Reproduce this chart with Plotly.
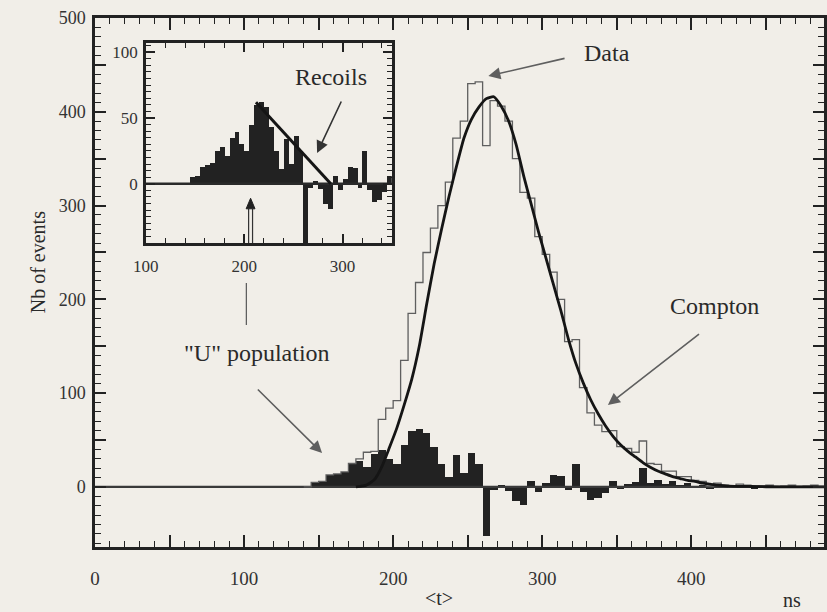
import plotly.graph_objects as go

# ---------------------------------------------------------------------------
# Histogram binning (ns) and the three distributions
# ---------------------------------------------------------------------------
bin_width = 5
bin_starts = list(range(140, 490, bin_width))

# Measured data (open histogram)
data_counts = [
    0, 5, 6, 13, 14, 16, 25, 30, 37, 38,
    72, 84, 92, 135, 185, 218, 250, 276, 300, 325,
    372, 390, 430, 432, 364, 412, 406, 390, 350, 314,
    308, 267, 248, 229, 200, 155, 157, 106, 79, 66,
    59, 60, 43, 41, 37, 49, 25, 24, 17, 17,
    11, 11, 7, 6, 1, 4, 2, 0, 3, 2,
    0, 1, 2, 0, 1, 2, 0, 1, 2, 0,
]

# Data minus Compton fit (filled histogram)
residual_counts = [
    0, 5, 6, 13, 14, 16, 25, 28, 21, 35,
    39, 30, 25, 45, 60, 62, 58, 43, 25, 11,
    34, 15, 36, 25, -52, -3, 2, -4, -15, -19,
    6, -5, 4, 13, 12, -3, 25, -5, -14, -12,
    -6, 6, -2, 3, 5, 20, 4, 7, 3, 6,
    2, 4, 1, 2, -2, 2, 1, -1, 2, 1,
    -2, 1, 2, -1, 1, 2, -1, 1, 2, -1,
]

# Compton fit curve
compton_t = [175, 182, 187.5, 192.5, 197.5, 202.5, 207.5, 212.5, 217.5, 222.5,
             227.5, 232.5, 237.5, 242.5, 247.5, 252.5, 257.5, 262.5, 267.5, 272.5,
             277.5, 282.5, 287.5, 292.5, 297.5, 302.5, 307.5, 312.5, 317.5, 322.5,
             327.5, 332.5, 337.5, 342.5, 347.5, 352.5, 357.5, 362.5, 367.5, 372.5,
             377.5, 382.5, 387.5, 392.5, 397.5, 402.5, 407.5, 412.5, 417.5, 425,
             440, 460, 489]
compton_y = [0, 2, 8, 22, 42, 63, 88, 115, 150, 195,
             238, 275, 310, 342, 372, 392, 405, 414, 416, 406,
             390, 365, 332, 302, 272, 244, 216, 188, 158, 132,
             111, 93, 78, 65, 54, 45, 38, 32, 26, 21,
             17, 14, 11, 9, 7, 6, 4, 3, 2, 1,
             0.5, 0, 0]

# Recoil fit line in the inset
recoil_t = [212, 288]
recoil_y = [62, 0]

# Axis tick values / labels
main_x_ticks = list(range(0, 500, 50))
main_x_labels = [str(v) if v % 100 == 0 else "" for v in main_x_ticks]
main_y_ticks = list(range(0, 550, 50))
main_y_labels = [str(v) if v % 100 == 0 else "" for v in main_y_ticks]
inset_x_ticks = [100, 200, 300]
inset_y_ticks = [0, 50, 100]

# ---------------------------------------------------------------------------
# Geometry helpers (page pixels -> axis / paper coordinates)
# ---------------------------------------------------------------------------
W, H = 827, 612
ML, MR, MT, MB = 95, 0, 18, 65
PW, PH = W - ML - MR, H - MT - MB
X0, X1 = 0, 489
Y0, Y1 = -64, 500


def px_x(px):
    return X0 + (px - ML) / PW * (X1 - X0)


def px_y(py):
    return Y1 - (py - MT) / PH * (Y1 - Y0)


def paper_x(px):
    return (px - ML) / PW


def paper_y(py):
    return (H - MB - py) / PH


INK = "#222222"
GREY = "#5f5f5f"
BG = "#f1eee8"
FONT = "Liberation Serif"

centers = [s + bin_width / 2 for s in bin_starts]
edges = bin_starts + [bin_starts[-1] + bin_width]
step_y = data_counts + [0]

fig = go.Figure()

# --- main panel -------------------------------------------------------------
fig.add_trace(go.Bar(x=centers, y=residual_counts, width=bin_width,
                     marker=dict(color=INK, line=dict(width=0)),
                     xaxis="x", yaxis="y", showlegend=False))
fig.add_trace(go.Scatter(x=[X0, X1], y=[0, 0], mode="lines",
                         line=dict(color="#3a3a3a", width=2.2),
                         xaxis="x", yaxis="y", showlegend=False))
fig.add_trace(go.Scatter(x=[edges[0]] + edges, y=[0] + step_y, mode="lines",
                         line=dict(color=GREY, width=1.3, shape="hv"),
                         xaxis="x", yaxis="y", showlegend=False))
fig.add_trace(go.Scatter(x=compton_t, y=compton_y, mode="lines",
                         line=dict(color="#151515", width=2.8, shape="spline",
                                   smoothing=0.5),
                         xaxis="x", yaxis="y", showlegend=False))

# --- inset panel ------------------------------------------------------------
fig.add_trace(go.Bar(x=centers, y=residual_counts, width=bin_width,
                     marker=dict(color=INK, line=dict(width=0)),
                     xaxis="x2", yaxis="y2", showlegend=False))
fig.add_trace(go.Scatter(x=[100, 350], y=[0, 0], mode="lines",
                         line=dict(color="#2a2a2a", width=2.5),
                         xaxis="x2", yaxis="y2", showlegend=False))
fig.add_trace(go.Scatter(x=recoil_t, y=recoil_y, mode="lines",
                         line=dict(color="#151515", width=3),
                         xaxis="x2", yaxis="y2", showlegend=False))

axis_common = dict(showline=True, linecolor=INK, linewidth=2.5, mirror="ticks",
                   ticks="inside", tickcolor=INK, showgrid=False, zeroline=False,
                   fixedrange=True)

fig.update_layout(
    width=W, height=H,
    margin=dict(l=ML, r=MR, t=MT, b=MB, pad=0),
    paper_bgcolor=BG, plot_bgcolor=BG,
    bargap=0, barmode="overlay",
    xaxis=dict(range=[X0, X1], domain=[0, 1], anchor="y",
               tickvals=main_x_ticks, ticktext=main_x_labels,
               ticklen=12, tickwidth=1.6, ticklabelstandoff=12,
               minor=dict(dtick=10, tick0=0, ticklen=6, tickwidth=1.3,
                          ticks="inside", tickcolor=INK),
               tickfont=dict(family=FONT, size=19, color="#333333"),
               **axis_common),
    yaxis=dict(range=[Y0, Y1], domain=[0, 1], anchor="x",
               tickvals=main_y_ticks, ticktext=main_y_labels,
               ticklen=11, tickwidth=1.6, ticklabelstandoff=3,
               minor=dict(dtick=10, tick0=0, ticklen=6, tickwidth=1.3,
                          ticks="inside", tickcolor=INK),
               tickfont=dict(family=FONT, size=18, color="#333333"),
               **axis_common),
    xaxis2=dict(range=[100, 350], domain=[paper_x(146), paper_x(393)],
                anchor="y2", tickvals=inset_x_ticks,
                ticklen=9, tickwidth=1.6, ticklabelstandoff=6,
                minor=dict(dtick=20, tick0=100, ticklen=5, tickwidth=1.3,
                           ticks="inside", tickcolor=INK),
                tickfont=dict(family=FONT, size=17, color="#333333"),
                **axis_common),
    yaxis2=dict(range=[-45, 107], domain=[paper_y(243), paper_y(43)],
                anchor="x2", tickvals=inset_y_ticks,
                ticklen=9, tickwidth=1.6, ticklabelstandoff=2,
                minor=dict(dtick=5, tick0=0, ticklen=5, tickwidth=1.2,
                           ticks="inside", tickcolor=INK),
                tickfont=dict(family=FONT, size=17, color="#333333"),
                **axis_common),
)


def arrow(tail, head, color=GREY, width=1.6):
    fig.add_annotation(x=px_x(head[0]), y=px_y(head[1]),
                       ax=px_x(tail[0]), ay=px_y(tail[1]),
                       xref="x", yref="y", axref="x", ayref="y",
                       text="", showarrow=True, arrowhead=2, arrowsize=1.5,
                       arrowwidth=width, arrowcolor=color)


def label(text, pos, size=24, angle=0):
    fig.add_annotation(x=paper_x(pos[0]), y=paper_y(pos[1]),
                       xref="paper", yref="paper",
                       text=text, showarrow=False, textangle=angle,
                       font=dict(family=FONT, size=size, color="#2a2a2a"),
                       xanchor="center", yanchor="middle")


arrow((568, 58), (490, 76))
arrow((343, 100), (318, 153), color="#333333")
arrow((703, 333), (610, 405))
arrow((257, 388), (323, 453))

label("Data", (609, 53))
label("Recoils", (332, 77))
label("Compton", (717, 306))
label('"U" population', (258, 353))
label("&lt;t&gt;", (440, 598), size=20)
label("ns", (795, 600), size=20)
label("Nb of events", (38, 262), size=20, angle=-90)

# thin connector below the inset
fig.add_shape(type="line", xref="x", yref="y",
              x0=px_x(247), x1=px_x(247), y0=px_y(283), y1=px_y(325),
              line=dict(color=GREY, width=1.3))

# hollow upward arrow inside the inset
for xs in (204.5, 208.5):
    fig.add_shape(type="line", xref="x2", yref="y2",
                  x0=xs, x1=xs, y0=-45, y1=-19,
                  line=dict(color="#333333", width=1.2))
fig.add_shape(type="path", xref="x2", yref="y2",
              path="M 202,-19 L 211,-19 L 206.5,-11 Z",
              fillcolor="#222222", line=dict(color="#222222", width=1))

fig.write_html("out.html")
